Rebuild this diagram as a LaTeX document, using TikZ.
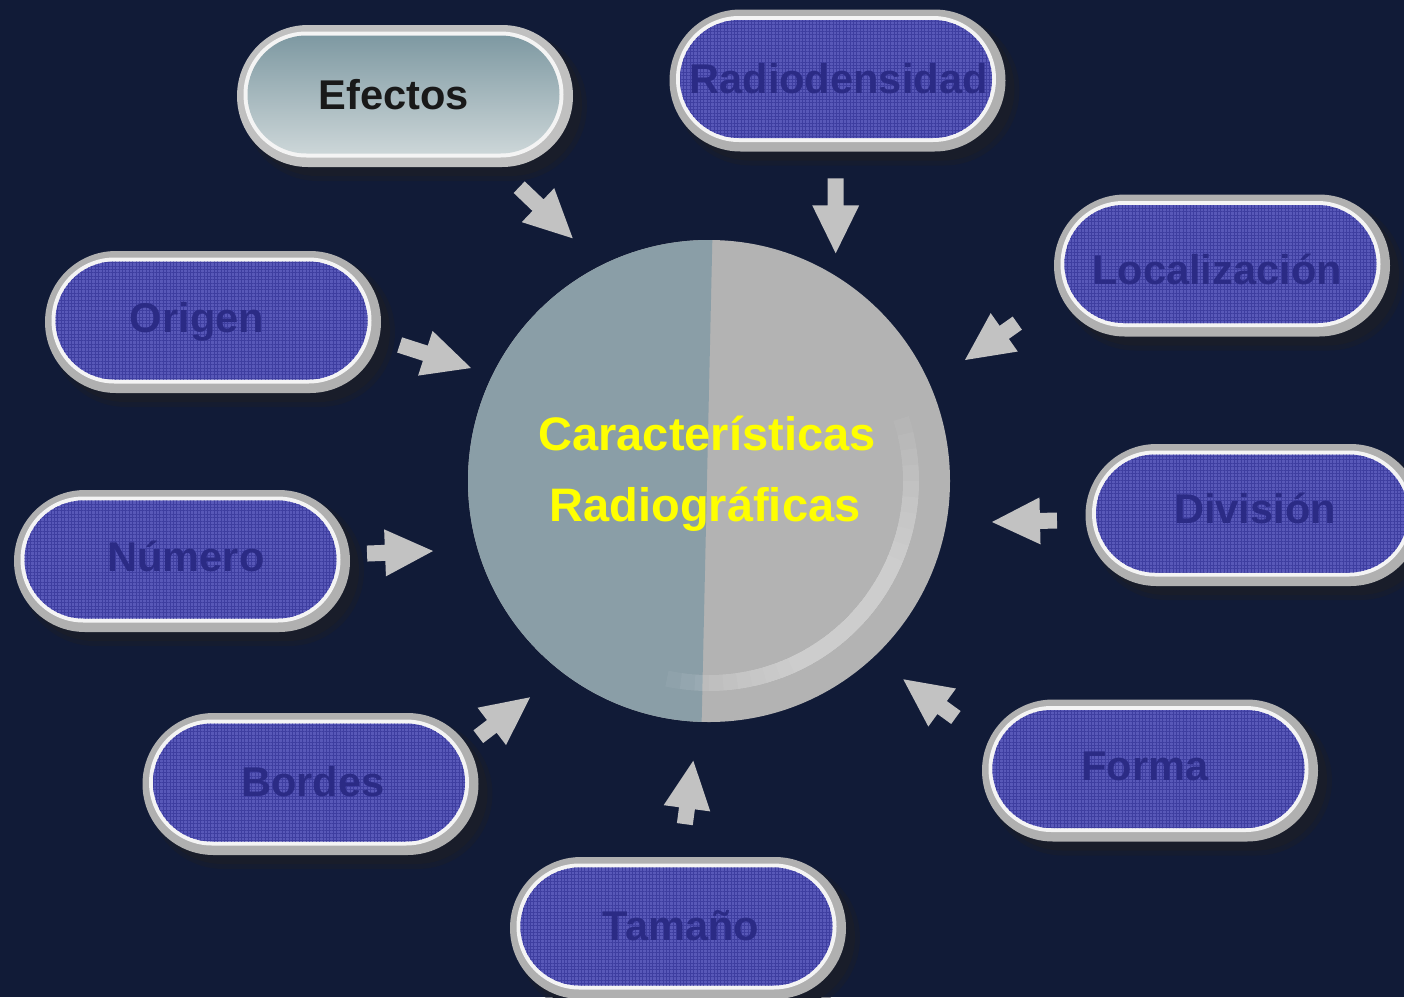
\documentclass[tikz,border=0pt]{standalone}
\usepackage{fontspec}
\setmainfont{Liberation Sans}
\usetikzlibrary{shapes.misc,calc,patterns.meta}
\definecolor{bg}{HTML}{111B37}
\definecolor{ring}{HTML}{B0B0B0}
\definecolor{ringlt}{HTML}{F4F4F4}
\definecolor{pillblue}{HTML}{5858B8}
\definecolor{gridblue}{HTML}{3E3EA0}
\definecolor{pilltext}{HTML}{2B2B85}
\definecolor{arrowgray}{HTML}{C2C2C2}
\definecolor{shadowc}{HTML}{191D2A}
\definecolor{leftc}{HTML}{8A9EA7}
\definecolor{rightc}{HTML}{B3B3B3}
\definecolor{efTop}{HTML}{7E99A2}
\definecolor{efBot}{HTML}{CCD6D8}
\definecolor{titleyellow}{HTML}{FFFF00}
\tikzset{
  pillbase/.style={rounded rectangle, inner sep=0pt, minimum width=168pt, minimum height=71pt, draw=none},
  pillshadowA/.style={rounded rectangle, inner sep=0pt, minimum width=172pt, minimum height=75pt, fill=shadowc, opacity=.5},
  pillshadow/.style={pillbase, fill=shadowc},
  pillring/.style={pillbase, fill=ring},
  pillwhite/.style={rounded rectangle, inner sep=0pt, minimum width=160pt, minimum height=63pt, fill=ringlt},
  pillfill/.style={rounded rectangle, inner sep=0pt, minimum width=156pt, minimum height=59pt, fill=pillblue,
    postaction={pattern={Lines[distance=1.7pt, line width=0.35pt, angle=0]}, pattern color=gridblue},
    postaction={pattern={Lines[distance=1.7pt, line width=0.35pt, angle=90]}, pattern color=gridblue}},
  pilllabel/.style={anchor=base, text=pilltext, font=\fontsize{20.8}{25}\selectfont\bfseries, inner sep=0pt},
  titlelabel/.style={anchor=base, text=titleyellow, font=\fontsize{23.5}{28}\selectfont\bfseries, inner sep=0pt},
  hilite/.style={draw=white, opacity=.05, line width=8pt},
  pics/barrow/.style={code={
    \fill[arrowgray] (0,0) -- (-48,23.5) -- (-48,8) -- (-#1,8) -- (-#1,-8) -- (-48,-8) -- (-48,-23.5) -- cycle;
  }}
}
\newcommand\pill[3]{%
  \node[pillshadowA] (#1-sa) at (#2+10,#3+10) {};
  \node[pillshadow] (#1-sh) at (#2+9,#3+9) {};
  \node[pillring] (#1) at (#2,#3) {};
  \node[pillwhite] (#1-w) at (#2-1.5,#3-1.5) {};
  \node[pillfill] (#1-f) at (#2-1.5,#3-1.5) {};
}
\begin{document}
\begin{tikzpicture}[x=0.5pt,y=-0.5pt]
\useasboundingbox (0,0) rectangle (1404,997);
\fill[bg] (0,0) rectangle (1404,997);
\clip (0,0) rectangle (1404,997);

% central disc
\node[circle, inner sep=0pt, minimum size=241pt, fill=rightc] (disc) at (709,481) {};
\begin{scope}
  \clip (709,481) circle [radius=241];
  \fill[leftc] (400,200) -- (713.2,200) -- (700.8,760) -- (400,760) -- cycle;
  \foreach \i in {0,...,9}{
    \pgfmathsetmacro\sa{-18+\i*4.5}
    \pgfmathsetmacro\ea{102-\i*4}
    \draw[hilite] (709,481) ++(\sa:202) arc[start angle=\sa, end angle=\ea, radius=202];
  }
\end{scope}
\node[titlelabel] (t1) at (707,450) {Características};
\node[titlelabel] (t2) at (705,521) {Radiográficas};

% pills
\node[pillshadowA] (efx) at (415,106) {};
\node[pillshadow] (efsh) at (414,105) {};
\node[pillring, fill=ring!80!white] (efring) at (405,96) {};
\node[pillwhite] (efw) at (403.5,94.5) {};
\node[rounded rectangle, inner sep=0pt, minimum width=156pt, minimum height=59pt, top color=efTop, bottom color=efBot] (eff) at (403.5,94.5) {};
\node[pilllabel, text=black!90] (efectos-t) at (394,109) {Efectos};

\pill{radio}{837.5}{80.5}
\begin{scope}
  \clip[rounded corners=29pt] (680,21) rectangle (992,138);
  \node[pilllabel] (radio-t) at (838.5,93) {Radiodensidad};
\end{scope}

\pill{local}{1222}{265.5}
\node[pilllabel] (local-t) at (1217,284) {Localización};

\pill{origen}{213}{322}
\node[pilllabel] (origen-t) at (197,332) {Origen};

\pill{division}{1253.5}{515}
\node[pilllabel] (division-t) at (1255,523) {División};

\pill{numero}{182}{561}
\node[pilllabel] (numero-t) at (186,571) {Número};

\pill{bordes}{310.5}{784}
\node[pilllabel] (bordes-t) at (313,796) {Bordes};

\pill{forma}{1150}{770.5}
\node[pilllabel] (forma-t) at (1145,780) {Forma};

\pill{tamano}{678}{928}
\node[pilllabel] (tamano-t) at (681,940) {Tamaño};

% block arrows toward the disc
\pic[rotate=-43.7] at (572.7,238.3) {barrow=74};
\pic[rotate=-90] at (835.7,253.3) {barrow=75};
\pic[rotate=-144.8] at (965,360) {barrow=64};
\pic[rotate=-17.9] at (471,368) {barrow=75};
\pic[rotate=2.2] at (433,551) {barrow=66};
\pic[rotate=-178.7] at (992,522) {barrow=65};
\pic[rotate=37.3] at (530,697.3) {barrow=65};
\pic[rotate=82.4] at (693.3,760.7) {barrow=64};
\pic[rotate=144] at (903.3,679.3) {barrow=65};
\end{tikzpicture}
\end{document}
